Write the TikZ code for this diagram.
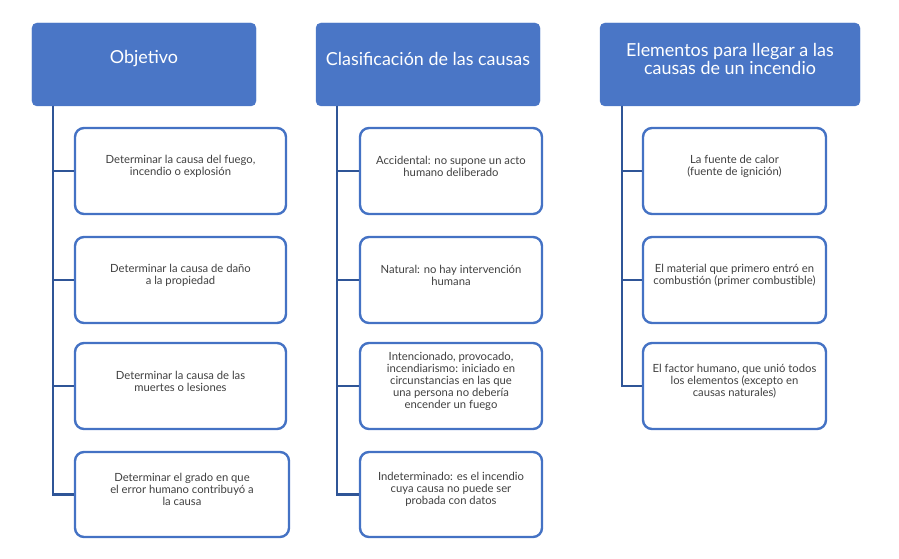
\documentclass[tikz,border=0pt]{standalone}
\usepackage{fontspec}
\setmainfont{Lato}
\definecolor{hdrfill}{HTML}{4A76C6}
\definecolor{boxline}{HTML}{4472C4}
\definecolor{connline}{HTML}{2F5597}
\definecolor{txtgray}{HTML}{404040}
\newcommand{\mybox}[4]{\begin{minipage}[c][#2][c]{#1}\centering #4\par\vspace{#3}\end{minipage}}
\tikzset{
  hdr/.style={draw=hdrfill, fill=hdrfill, rounded corners=5bp, inner sep=0pt, text=white,
    font=\fontsize{18}{18.5}\selectfont},
  child/.style={draw=boxline, line width=2.4bp, fill=white, rounded corners=9bp, inner sep=0pt, text=txtgray,
    font=\fontsize{11.3}{12}\selectfont},
  conn/.style={draw=connline, line width=2.6bp}
}
\begin{document}
\begin{tikzpicture}[x=1bp,y=-1bp]
\useasboundingbox (0,0) rectangle (899,559);
% headers
\node[hdr] (h1) at (144,64.5) {\mybox{224bp}{83bp}{11bp}{Objetivo}};
\node[hdr] (h2) at (428,64.5) {\mybox{224bp}{83bp}{11bp}{Clasificación de las causas}};
\node[hdr] (h3) at (730,64.5) {\mybox{260bp}{83bp}{11bp}{Elementos para llegar a las\\causas de un incendio}};
% column 1
\node[child] (c11) at (180.5,171) {\mybox{211bp}{86bp}{10bp}{Determinar la causa del fuego,\\incendio o explosión}};
\node[child] (c12) at (180.5,280) {\mybox{211bp}{86bp}{10bp}{Determinar la causa de daño\\a la propiedad}};
\node[child] (c13) at (180.5,386) {\mybox{211bp}{86bp}{10bp}{Determinar la causa de las\\muertes o lesiones}};
\node[child] (c14) at (182,494.5) {\mybox{214bp}{85bp}{10bp}{Determinar el grado en que\\el error humano contribuyó a\\la causa}};
% column 2
\node[child] (c21) at (451,171) {\mybox{182bp}{86bp}{10bp}{Accidental: no supone un acto\\humano deliberado}};
\node[child] (c22) at (451,280) {\mybox{182bp}{86bp}{10bp}{Natural: no hay intervención\\humana}};
\node[child] (c23) at (451,386) {\mybox{182bp}{86bp}{10bp}{Intencionado, provocado,\\incendiarismo: iniciado en\\circunstancias en las que\\una persona no debería\\encender un fuego}};
\node[child] (c24) at (451,494.5) {\mybox{182bp}{85bp}{10bp}{Indeterminado: es el incendio\\cuya causa no puede ser\\probada con datos}};
% column 3
\node[child] (c31) at (734.5,171) {\mybox{183bp}{86bp}{10bp}{La fuente de calor\\(fuente de ignición)}};
\node[child] (c32) at (734.5,280) {\mybox{183bp}{86bp}{10bp}{El material que primero entró en\\combustión (primer combustible)}};
\node[child] (c33) at (734.5,386) {\mybox{183bp}{86bp}{10bp}{El factor humano, que unió todos\\los elementos (excepto en\\causas naturales)}};
% trunk coordinates
\coordinate (t1) at (53,106);
\coordinate (t2) at (337,106);
\coordinate (t3) at (622,106);
% connectors
\draw[conn] (t1) |- (c14.west);
\draw[conn] (t1) |- (c11.west);
\draw[conn] (t1) |- (c12.west);
\draw[conn] (t1) |- (c13.west);
\draw[conn] (t2) |- (c24.west);
\draw[conn] (t2) |- (c21.west);
\draw[conn] (t2) |- (c22.west);
\draw[conn] (t2) |- (c23.west);
\draw[conn] (t3) |- (c33.west);
\draw[conn] (t3) |- (c31.west);
\draw[conn] (t3) |- (c32.west);
\end{tikzpicture}
\end{document}
